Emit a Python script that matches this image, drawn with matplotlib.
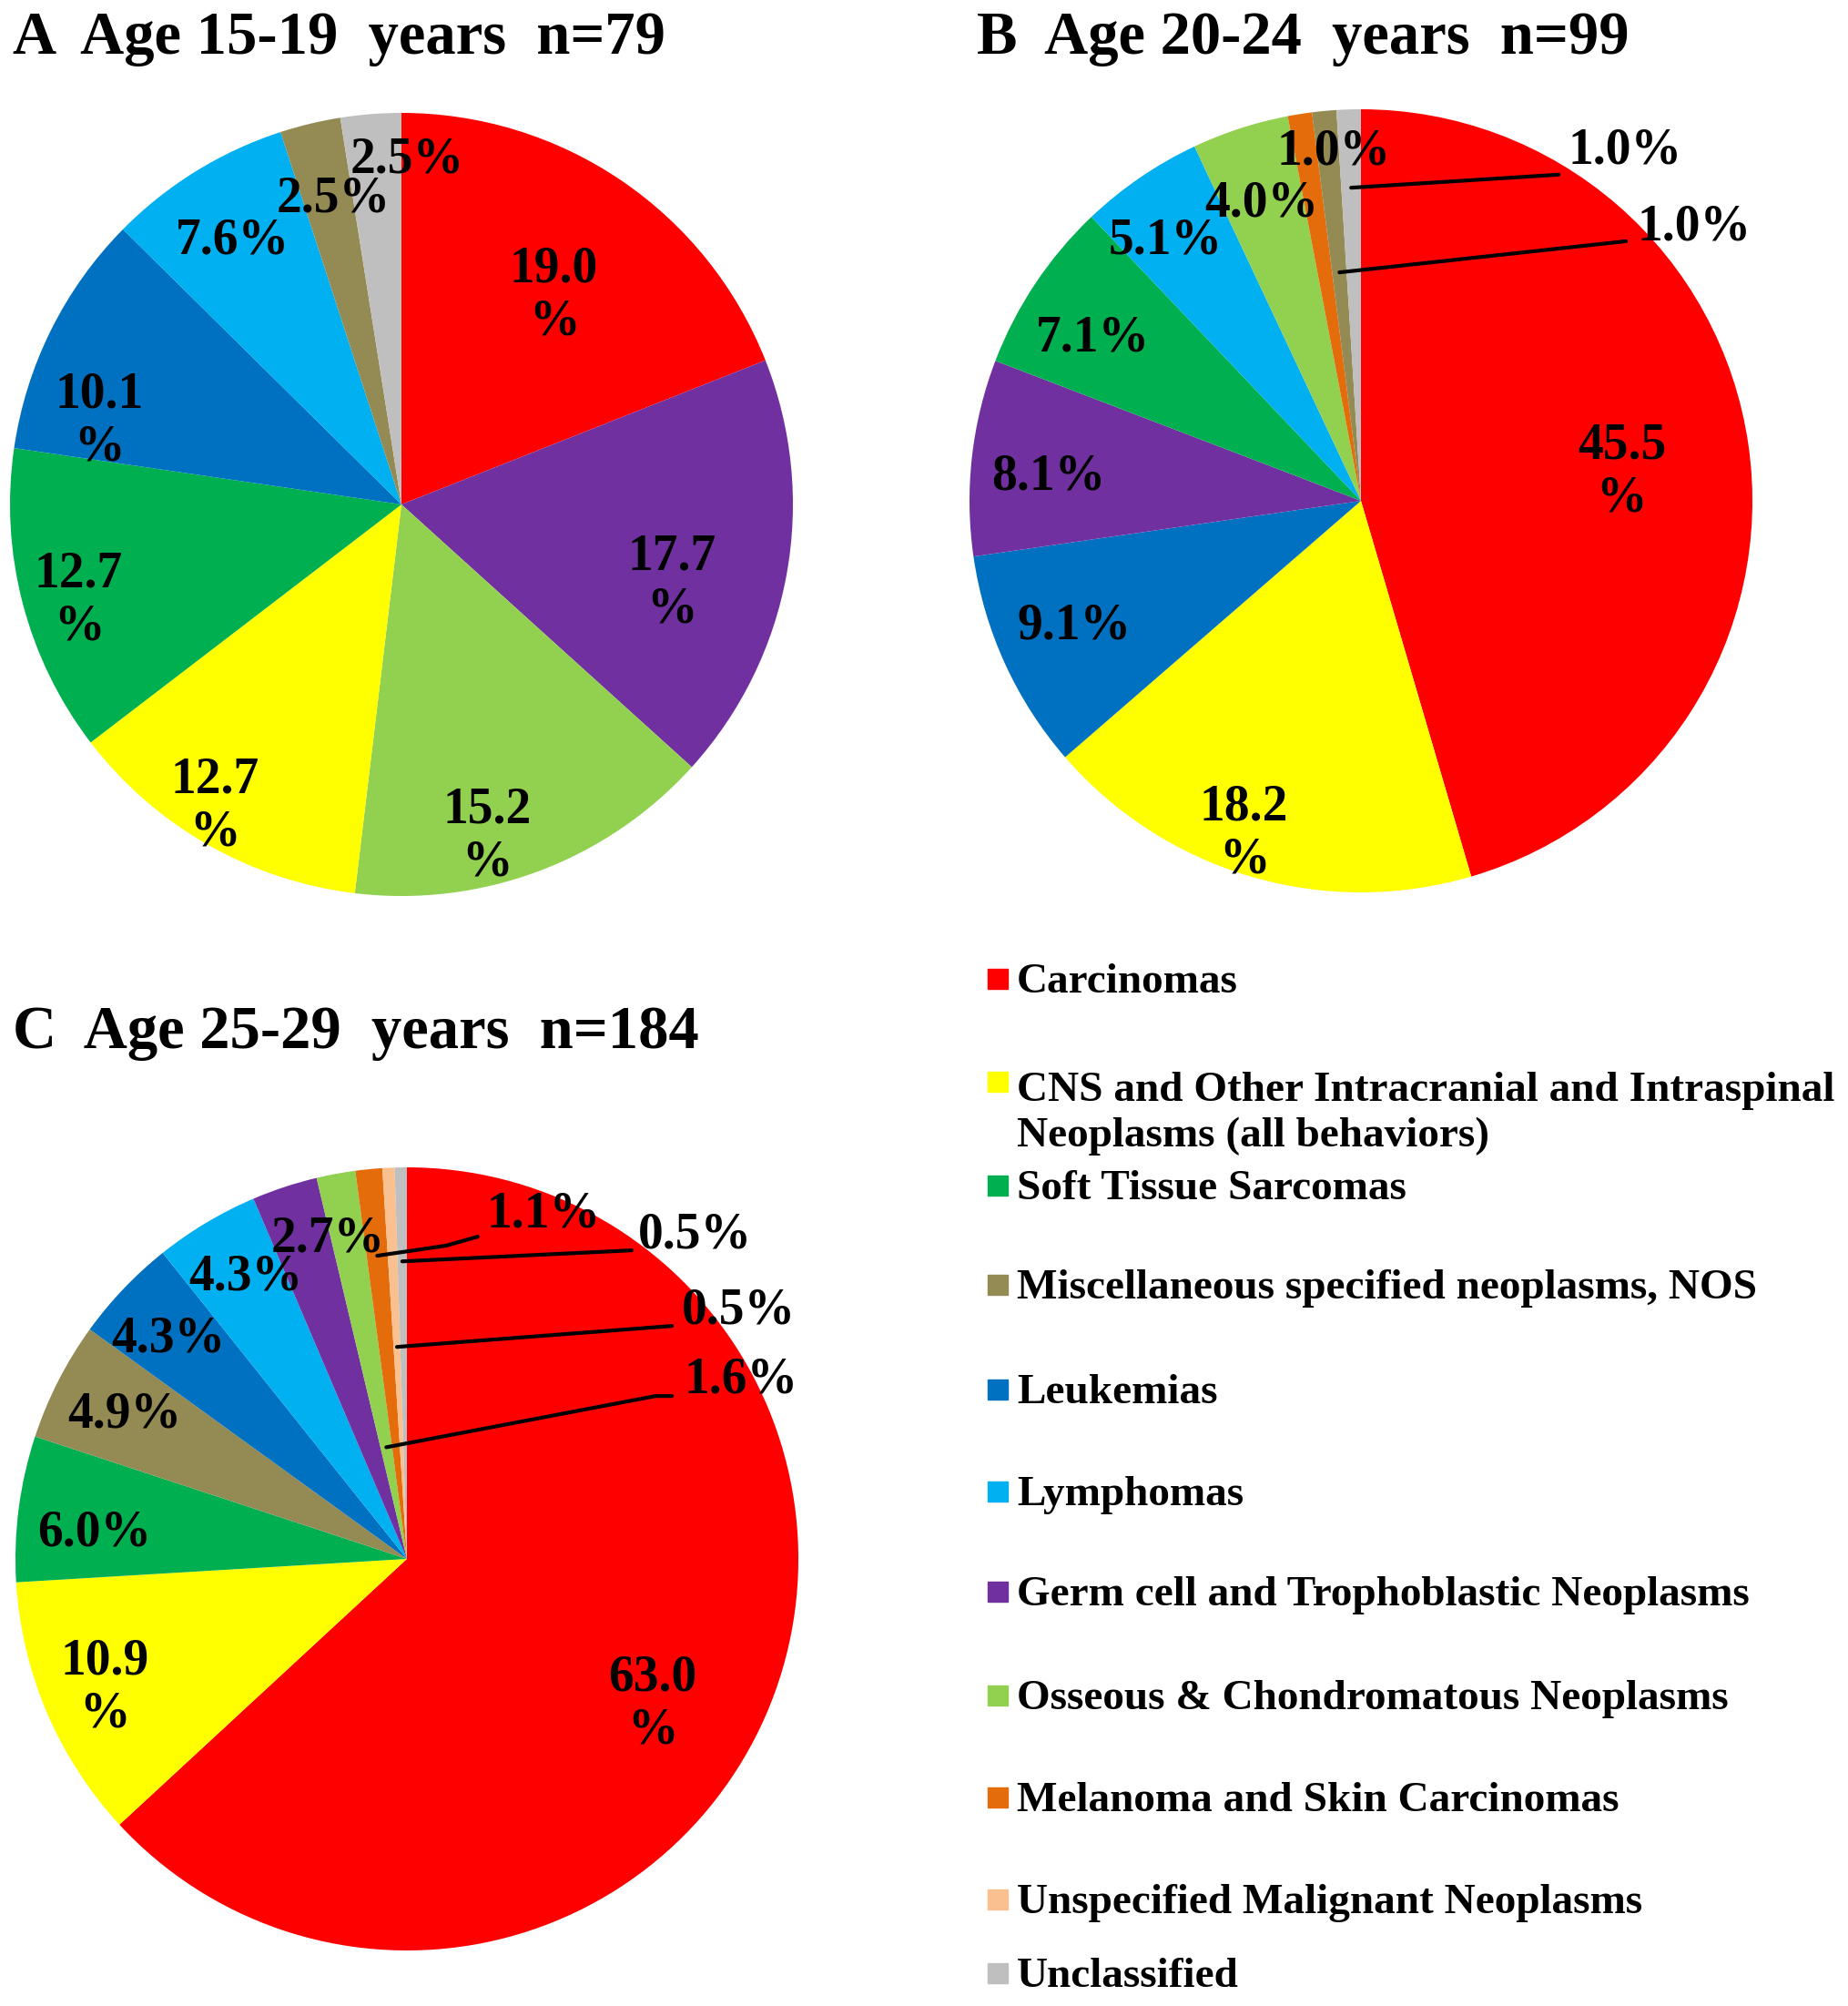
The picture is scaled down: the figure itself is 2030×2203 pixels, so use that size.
import numpy as np
import matplotlib
matplotlib.use("Agg")
import matplotlib.pyplot as plt

plt.rcParams['font.family'] = ['Liberation Serif', 'DejaVu Serif']
plt.rcParams['font.weight'] = 'bold'

W, H = 2031, 2203

# categories and colours (legend order)
categories = ["Carcinomas",
              "CNS and Other Intracranial and Intraspinal\nNeoplasms (all behaviors)",
              "Soft Tissue Sarcomas",
              "Miscellaneous specified neoplasms, NOS",
              "Leukemias",
              "Lymphomas",
              "Germ cell and Trophoblastic Neoplasms",
              "Osseous & Chondromatous Neoplasms",
              "Melanoma and Skin Carcinomas",
              "Unspecified Malignant Neoplasms",
              "Unclassified"]
cat_colors = ["#FF0000", "#FFFF00", "#00B050", "#948A54", "#0070C0", "#00B0F0",
              "#7030A0", "#92D050", "#E46C0A", "#FAC090", "#BFBFBF"]

# slice order (index into categories) and percentages, clockwise from 12 o'clock
a_order = [0, 6, 7, 1, 2, 4, 5, 3, 10]
a_pct = [19.0, 17.7, 15.2, 12.7, 12.7, 10.1, 7.6, 2.5, 2.5]

b_order = [0, 1, 4, 6, 2, 5, 7, 8, 3, 10]
b_pct = [45.5, 18.2, 9.1, 8.1, 7.1, 5.1, 4.0, 1.0, 1.0, 1.0]

c_order = [0, 1, 2, 3, 4, 5, 6, 7, 8, 9, 10]
c_pct = [63.0, 10.9, 6.0, 4.9, 4.3, 4.3, 2.7, 1.6, 1.1, 0.5, 0.5]

titles = ["A  Age 15-19  years  n=79", "B  Age 20-24  years  n=99", "C  Age 25-29  years  n=184"]

# label layout: (radius, angle offset deg, two lines?) or leader line
a_lab = [(0.66, 2, 1), (0.72, 6, 1), (0.875, 6, 1), (0.905, 2, 1), (0.86, -2, 1),
         (0.80, -11, 1), (0.80, -1, 0), (0.80, 1, 0), (0.88, 5.5, 0)]
b_lab = [(0.67, 2, 1), (0.90, 3, 1), (0.80, 1, 0), (0.80, -2, 0), (0.80, -2.5, 0),
         (0.83, -2.6, 0), (0.80, -0.5, 0), (0.895, 4.6, 0), None, None]
c_lab = [(0.73, 7, 1), (0.84, 0, 1), (0.80, -2.7, 0), (0.81, 0, 0), (0.83, -1, 0),
         (0.83, 1, 0), (0.843, 4.3, 0), None, None, None, None]
# leader lines: slice index -> (anchor radius, line points, text position)
b_lead = {8: (0.586, [(0.677, 0.663)], (0.851, 0.700)),
          9: (0.80, [(0.505, 0.833)], (0.674, 0.895))}
c_lead = {7: (0.29, [(0.635, 0.416), (0.677, 0.416)], (0.853, 0.456)),
          8: (0.778, [(0.10, 0.80), (0.181, 0.823)], (0.349, 0.881)),
          9: (0.542, [(0.677, 0.595)], (0.847, 0.633)),
          10: (0.76, [(0.574, 0.788)], (0.735, 0.826))}

FS = 40
pad = 1.15
r = 430


def draw_pie(cx, cy, order, pct, labs, leads):
    ax = fig.add_axes([(cx - pad * r) / W, 1 - (cy + pad * r) / H,
                       2 * pad * r / W, 2 * pad * r / H])
    ax.pie(pct, colors=[cat_colors[i] for i in order], startangle=90,
           counterclock=False, radius=1, wedgeprops=dict(linewidth=0))
    ax.set_xlim(-pad, pad)
    ax.set_ylim(-pad, pad)
    ax.axis('off')
    vals = np.array(pct)
    frac = vals / vals.sum()
    mids = (np.cumsum(frac) - frac / 2) * 360
    for k, v in enumerate(pct):
        if labs[k] is not None:
            d, off, two = labs[k]
            th = np.radians(mids[k] + off)
            s = f"{v:.1f}\n%" if two else f"{v:.1f}%"
            ax.text(d * np.sin(th), d * np.cos(th), s, ha='center', va='center',
                    fontsize=FS, fontweight='bold', linespacing=1.15)
        else:
            ar, pts, tpos = leads[k]
            th = np.radians(mids[k])
            xs = [ar * np.sin(th)] + [p[0] for p in pts]
            ys = [ar * np.cos(th)] + [p[1] for p in pts]
            ax.plot(xs, ys, color='black', lw=3, clip_on=False, solid_capstyle='round')
            ax.text(tpos[0], tpos[1], f"{v:.1f}%", ha='center', va='center',
                    fontsize=FS, fontweight='bold')
    return ax


fig = plt.figure(figsize=(W / 100, H / 100), dpi=100)

draw_pie(441, 554, a_order, a_pct, a_lab, {})
draw_pie(1495, 550, b_order, b_pct, b_lab, b_lead)
draw_pie(447, 1712, c_order, c_pct, c_lab, c_lead)

fig.text(14 / W, 1 - 59 / H, titles[0], fontsize=48, fontweight='bold', va='baseline')
fig.text(1073 / W, 1 - 59 / H, titles[1], fontsize=48, fontweight='bold', va='baseline')
fig.text(14 / W, 1 - 1151 / H, titles[2], fontsize=48, fontweight='bold', va='baseline')

# legend
leg_y = [1079, 1223, 1306, 1415, 1530, 1642, 1752, 1866, 1978, 2090, 2171]
for k, name in enumerate(categories):
    y = leg_y[k]
    my = 1188 if k == 1 else y - 4
    fig.patches.append(plt.Rectangle((1085 / W, 1 - (my + 11) / H), 22 / W, 22 / H,
                                     transform=fig.transFigure, color=cat_colors[k]))
    fig.text(1117 / W, 1 - y / H, name, fontsize=34, fontweight='bold', va='center',
             linespacing=1.25)

fig.savefig("out.png", dpi=100, facecolor='white')
